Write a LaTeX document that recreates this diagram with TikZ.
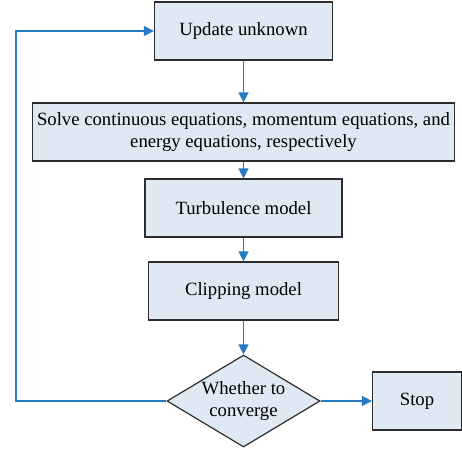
\documentclass[tikz,border=0pt]{standalone}
\usepackage{fontspec}
\setmainfont{Liberation Serif}
\usetikzlibrary{arrows.meta,shapes.geometric}

\definecolor{boxfill}{RGB}{222,233,243}
\definecolor{boxline}{RGB}{45,45,45}
\definecolor{flowblue}{RGB}{38,122,196}

\begin{document}
\begin{tikzpicture}[
    x=1pt, y=-1pt,
    font=\fontsize{18.7}{21.5}\selectfont,
    arrow/.style={flowblue, line width=1.3pt, -{Triangle[length=10pt,width=10pt]}},
    stepbox/.style={
      rectangle,
      draw=boxline,
      line width=1.2pt,
      fill=boxfill,
      minimum height=58pt,
      inner sep=0pt,
      align=center
    },
    decide/.style={
      diamond,
      draw=boxline,
      line width=1.2pt,
      fill=boxfill,
      inner sep=0pt,
      shape aspect=1.66,
      minimum width=153pt,
      minimum height=92pt,
      align=center
    }
  ]

  \path[use as bounding box] (0,0) rectangle (462,449);

  % Column centre
  \def\xMid{243.5}

  % =====================================================
  % STEPS
  % =====================================================
  \node[stepbox, minimum width=178pt] (update) at (\xMid,31) {Update unknown};

  \node[stepbox, minimum width=422pt] (solve) at (\xMid,132)
  {Solve continuous equations, momentum equations, and\\
   energy equations, respectively};

  \node[stepbox, minimum width=197pt] (turb) at (\xMid,208) {Turbulence model};

  \node[stepbox, minimum width=190pt] (clip) at (\xMid,291) {Clipping model};

  \node[decide] (conv) at (\xMid,401) {Whether to\\converge};

  \node[stepbox, minimum width=89pt] (stop) at (417,401) {Stop};

  % =====================================================
  % ARROWS
  % =====================================================
  \draw[arrow] (update) -- (solve);
  \draw[arrow] (solve) -- (turb);
  \draw[arrow] (turb) -- (clip);
  \draw[arrow] (clip) -- (conv);
  \draw[arrow] (conv) -- (stop);

  % loop back
  \coordinate (back) at (16,31);
  \draw[arrow] (conv.west) -| (back) -- (update.west);

\end{tikzpicture}
\end{document}
